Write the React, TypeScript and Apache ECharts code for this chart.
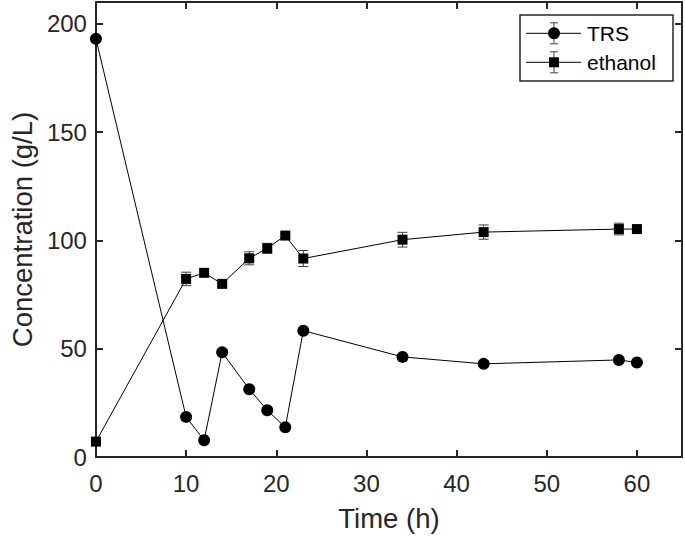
import React, { useEffect, useRef } from "react";
import * as echarts from "echarts";

const timeH = [0, 10, 12, 14, 17, 19, 21, 23, 34, 43, 58, 60];
const trs = [193, 18.5, 7.7, 48.3, 31.3, 21.6, 13.7, 58.3, 46.2, 43.0, 44.8, 43.6];
const trsErr = [1.0, 1.0, 0.8, 1.2, 1.0, 1.0, 0.8, 1.2, 1.0, 1.0, 1.0, 1.0];
const ethanol = [7.1, 82.2, 85.0, 79.9, 91.7, 96.3, 102.2, 91.6, 100.3, 103.8, 105.2, 105.2];
const ethanolErr = [0.5, 3.1, 1.5, 1.2, 3.0, 2.3, 1.0, 3.7, 3.4, 3.3, 2.7, 1.0];
const xTicks = { min: 0, max: 65, interval: 10 };
const yTicks = { min: 0, max: 210, interval: 50 };
const seriesNames = ["TRS", "ethanol"];

const FONT = "Liberation Sans, Arial, Helvetica, sans-serif";
const AXIS_COLOR = "#262626";
const ERR_COLOR = "#404040";

function errorBarRender(params: any, api: any) {
  const x = api.value(0);
  const y = api.value(1);
  const e = api.value(2);
  const top = api.coord([x, y + e]);
  const bot = api.coord([x, y - e]);
  const hw = 5;
  const style = { stroke: ERR_COLOR, lineWidth: 1 };
  return {
    type: "group",
    children: [
      { type: "line", shape: { x1: top[0], y1: top[1], x2: bot[0], y2: bot[1] }, style },
      { type: "line", shape: { x1: top[0] - hw, y1: top[1], x2: top[0] + hw, y2: top[1] }, style },
      { type: "line", shape: { x1: bot[0] - hw, y1: bot[1], x2: bot[0] + hw, y2: bot[1] }, style },
    ],
  };
}

function axisCommon(extra: any) {
  return {
    type: "value",
    splitLine: { show: false },
    axisLine: { show: true, onZero: false, lineStyle: { color: AXIS_COLOR, width: 2 } },
    axisTick: { show: true, inside: true, length: 7, lineStyle: { color: AXIS_COLOR, width: 2 } },
    ...extra,
  };
}

function legendItem(cy: number, name: string, marker: "circle" | "rect") {
  const cx = 554;
  const errStyle = { stroke: ERR_COLOR, lineWidth: 1 };
  const children: any[] = [
    { type: "line", shape: { x1: 526, y1: cy, x2: 581, y2: cy }, style: { stroke: "#000", lineWidth: 1 } },
    { type: "line", shape: { x1: cx, y1: cy - 10.5, x2: cx, y2: cy + 10.5 }, style: errStyle },
    { type: "line", shape: { x1: cx - 4, y1: cy - 10.5, x2: cx + 4, y2: cy - 10.5 }, style: errStyle },
    { type: "line", shape: { x1: cx - 4, y1: cy + 10.5, x2: cx + 4, y2: cy + 10.5 }, style: errStyle },
    marker === "circle"
      ? { type: "circle", shape: { cx, cy, r: 6 }, style: { fill: "#000" } }
      : { type: "rect", shape: { x: cx - 5, y: cy - 5, width: 10, height: 10 }, style: { fill: "#000" } },
    {
      type: "text",
      x: 587,
      y: cy,
      style: { text: name, fontSize: 21, fontFamily: FONT, fill: "#000", verticalAlign: "middle", align: "left" },
    },
  ];
  return children;
}

export default function App() {
  const ref = useRef<HTMLDivElement>(null);
  useEffect(() => {
    if (!ref.current) return;
    const chart = echarts.init(ref.current, undefined, { renderer: "svg" });
    const labelStyle = { fontSize: 24, color: AXIS_COLOR, fontFamily: FONT };
    chart.setOption({
      animation: false,
      backgroundColor: "#fff",
      grid: { left: 85, right: 3, top: 2, bottom: 79, containLabel: false },
      xAxis: [
        axisCommon({
          ...xTicks,
          position: "bottom",
          axisLabel: { ...labelStyle, margin: 14, showMaxLabel: false },
          name: "Time (h)",
          nameLocation: "middle",
          nameGap: 47,
          nameTextStyle: { fontSize: 27.5, color: AXIS_COLOR, fontFamily: FONT },
        }),
        axisCommon({ ...xTicks, position: "top", axisLabel: { show: false } }),
      ],
      yAxis: [
        axisCommon({
          ...yTicks,
          position: "left",
          axisLabel: { ...labelStyle, margin: 9, showMaxLabel: false },
          name: "Concentration (g/L)",
          nameLocation: "middle",
          nameGap: 58,
          nameTextStyle: { fontSize: 27.5, color: AXIS_COLOR, fontFamily: FONT },
        }),
        axisCommon({ ...yTicks, position: "right", axisLabel: { show: false } }),
      ],
      series: [
        {
          name: seriesNames[0] + " err",
          type: "custom",
          renderItem: errorBarRender,
          data: timeH.map((t, i) => [t, trs[i], trsErr[i]]),
          encode: { x: 0, y: 1 },
          z: 1,
        },
        {
          name: seriesNames[1] + " err",
          type: "custom",
          renderItem: errorBarRender,
          data: timeH.map((t, i) => [t, ethanol[i], ethanolErr[i]]),
          encode: { x: 0, y: 1 },
          z: 1,
        },
        {
          name: seriesNames[0],
          type: "line",
          data: timeH.map((t, i) => [t, trs[i]]),
          symbol: "circle",
          symbolSize: 12,
          lineStyle: { color: "#000", width: 1 },
          itemStyle: { color: "#000" },
          z: 2,
        },
        {
          name: seriesNames[1],
          type: "line",
          data: timeH.map((t, i) => [t, ethanol[i]]),
          symbol: "rect",
          symbolSize: 10,
          lineStyle: { color: "#000", width: 1 },
          itemStyle: { color: "#000" },
          z: 2,
        },
      ],
      graphic: [
        {
          type: "group",
          z: 10,
          children: [
            {
              type: "rect",
              shape: { x: 520, y: 15, width: 153, height: 66 },
              style: { fill: "#fff", stroke: AXIS_COLOR, lineWidth: 1.5 },
            },
            ...legendItem(33.3, seriesNames[0], "circle"),
            ...legendItem(62.3, seriesNames[1], "rect"),
          ],
        },
      ],
    });
    return () => chart.dispose();
  }, []);
  return (
    <div
      ref={ref}
      style={{ position: "fixed", left: 0, top: 0, width: 685, height: 537 }}
    />
  );
}
